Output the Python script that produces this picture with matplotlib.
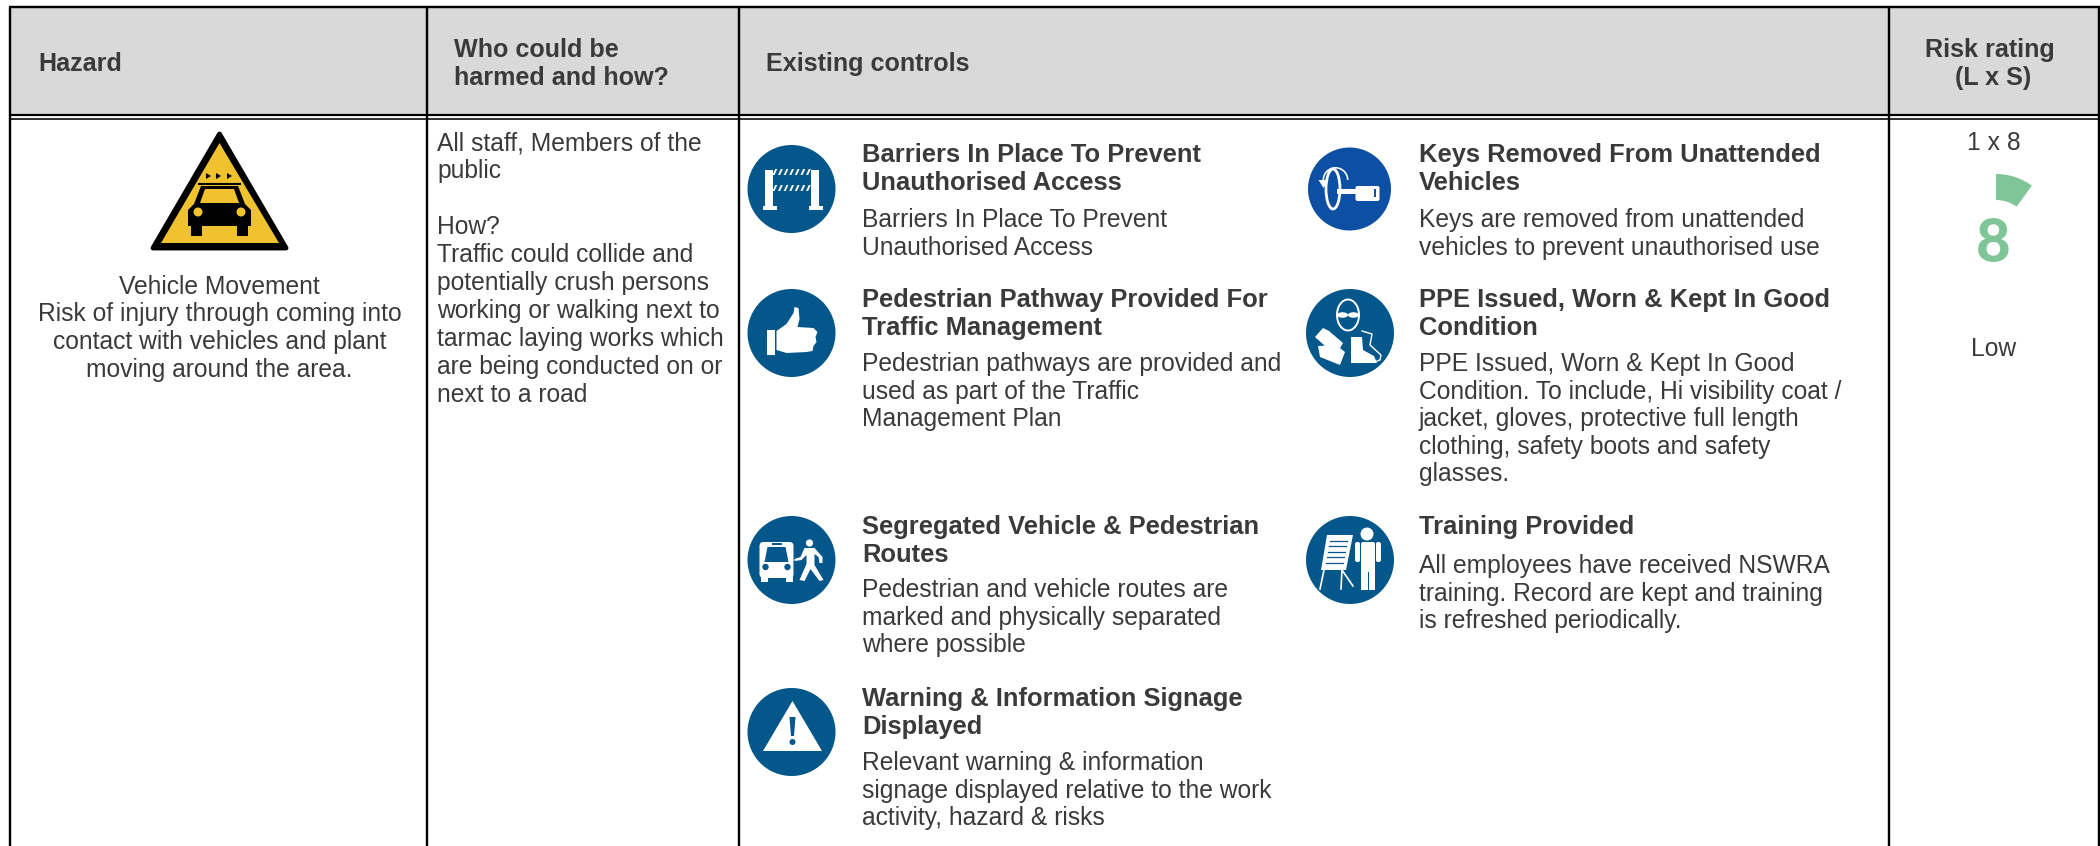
import matplotlib
matplotlib.use("Agg")
import matplotlib.pyplot as plt
from matplotlib.patches import Circle, Ellipse, Polygon, Rectangle, Wedge, FancyBboxPatch

plt.rcParams['font.family'] = ['Liberation Sans', 'DejaVu Sans']

TXT = "#3a3a3a"
BLUE = "#03578a"
KEYBLUE = "#0d4fa3"
GREEN = "#7fc597"
YELLOW = "#f0c22f"

headers = ["Hazard", "Who could be\nharmed and how?", "Existing controls", "Risk rating\n(L x S)"]

hazard_lines = ["Vehicle Movement", "Risk of injury through coming into",
                "contact with vehicles and plant", "moving around the area."]
who_lines = ["All staff, Members of the", "public", "", "How?", "Traffic could collide and",
             "potentially crush persons", "working or walking next to",
             "tarmac laying works which", "are being conducted on or", "next to a road"]

control_titles = [
    ["Barriers In Place To Prevent", "Unauthorised Access"],
    ["Pedestrian Pathway Provided For", "Traffic Management"],
    ["Segregated Vehicle & Pedestrian", "Routes"],
    ["Warning & Information Signage", "Displayed"],
    ["Keys Removed From Unattended", "Vehicles"],
    ["PPE Issued, Worn & Kept In Good", "Condition"],
    ["Training Provided"],
]
control_bodies = [
    ["Barriers In Place To Prevent", "Unauthorised Access"],
    ["Pedestrian pathways are provided and", "used as part of the Traffic", "Management Plan"],
    ["Pedestrian and vehicle routes are", "marked and physically separated", "where possible"],
    ["Relevant warning & information", "signage displayed relative to the work", "activity, hazard & risks"],
    ["Keys are removed from unattended", "vehicles to prevent unauthorised use"],
    ["PPE Issued, Worn & Kept In Good", "Condition. To include, Hi visibility coat /",
     "jacket, gloves, protective full length", "clothing, safety boots and safety", "glasses."],
    ["All employees have received NSWRA", "training. Record are kept and training",
     "is refreshed periodically."],
]
# x of text, y baseline of first title line, y baseline of first body line
control_pos = [(862, 162, 227), (862, 307, 371), (862, 534, 597), (862, 706, 770),
               (1419, 162, 227), (1419, 307, 371), (1419, 534, 573)]

likelihood_severity = "1 x 8"
risk_score = "8"
risk_label = "Low"
gauge_angle = 36

fig = plt.figure(figsize=(21, 8.46), dpi=100)
ax = fig.add_axes([0, 0, 1, 1])
ax.set_xlim(0, 2100)
ax.set_ylim(846, 0)
ax.axis("off")


def px(v):
    return v * 0.72


def add(p):
    ax.add_patch(p)
    return p


def white_poly(pts, cx, cy, color="white"):
    add(Polygon([(cx + a, cy + b) for a, b in pts], closed=True, fc=color, ec="none"))


def white_rect(x, y, w, h, cx, cy, color="white"):
    add(Rectangle((cx + x, cy + y), w, h, fc=color, ec="none"))


def barrier_icon(cx, cy):
    add(Circle((cx, cy), 44, fc=BLUE, ec="none"))
    white_rect(-27, -19, 8.5, 36, cx, cy)
    white_rect(19, -19, 8.5, 36, cx, cy)
    white_rect(-29, 17, 14, 4, cx, cy)
    white_rect(17, 17, 14, 4, cx, cy)
    for top in (-20, -4):
        for i in range(7):
            x0 = -19 + i * 5.6
            white_poly([(x0, top + 6), (x0 + 2, top + 6), (x0 + 4.7, top), (x0 + 2.7, top)], cx, cy)


def thumb_icon(cx, cy):
    add(Circle((cx, cy), 44, fc=BLUE, ec="none"))
    white_rect(-25, -3, 8.5, 25, cx, cy)
    white_poly([(-15, -2), (-5, -9), (2, -20), (3, -26), (7, -25), (8, -14), (6, -6),
                (22, -5), (26, -1), (24, 4), (25, 9), (22, 13), (21, 18), (15, 19),
                (-5, 20), (-15, 17)], cx, cy)


def bus_walker_icon(cx, cy):
    add(Circle((cx, cy), 44, fc=BLUE, ec="none"))
    add(FancyBboxPatch((cx - 32, cy - 18), 34, 36, boxstyle="round,pad=0,rounding_size=4", fc="white", ec="none"))
    white_poly([(-24, -13), (-6, -13), (-3, 2), (-27, 2)], cx, cy, BLUE)
    white_rect(-20, -17, 10, 2, cx, cy, BLUE)
    add(Circle((cx - 26, cy + 7), 3.2, fc=BLUE, ec="none"))
    add(Circle((cx - 4, cy + 7), 3.2, fc=BLUE, ec="none"))
    white_rect(-31, 16, 7, 6, cx, cy)
    white_rect(-6, 16, 7, 6, cx, cy)
    add(Circle((cx + 18, cy - 17), 3.6, fc="white", ec="none"))
    white_poly([(13, -12), (23, -12), (31, -3), (31, 3), (28, 3), (27, -3), (23, -6),
                (23, 5), (32, 20), (28, 21), (19, 9), (13, 21), (8, 20), (15, 4),
                (15, -5), (10, 0), (3, 1), (3, -1), (9, -3)], cx, cy)


def warning_icon(cx, cy):
    add(Circle((cx, cy), 44, fc=BLUE, ec="none"))
    white_poly([(1, -31), (30.5, 19), (-28.5, 19)], cx, cy)
    white_poly([(-2, -15), (4, -15), (2.5, 4), (-0.5, 4)], cx, cy, BLUE)
    add(Circle((cx + 1, cy + 10), 3, fc=BLUE, ec="none"))


def key_icon(cx, cy):
    add(Circle((cx, cy), 41.5, fc=KEYBLUE, ec="none"))
    add(Ellipse((cx - 16.5, cy), 14, 40, fc="none", ec="white", lw=2))
    add(Wedge((cx - 14, cy - 9), 13, 180, 360, width=1.6, fc="white", ec="none"))
    white_poly([(-31, -9), (-21, -9), (-26, -1)], cx, cy)
    white_rect(-13, 0, 20, 5, cx, cy)
    add(FancyBboxPatch((cx + 6, cy - 3), 24, 15, boxstyle="round,pad=0,rounding_size=2", fc="white", ec="none"))
    white_rect(24, 0, 2.5, 8, cx, cy, KEYBLUE)


def ppe_icon(cx, cy):
    add(Circle((cx, cy), 44, fc=BLUE, ec="none"))
    add(Ellipse((cx - 2, cy - 18), 22, 31, fc="none", ec="white", lw=1.4))
    add(Ellipse((cx - 7.5, cy - 18), 11, 5.5, fc="white", ec="none"))
    add(Ellipse((cx + 3.5, cy - 18), 11, 5.5, fc="white", ec="none"))
    white_poly([(-35, 4), (-27, -5), (-21, -2), (-7, 10), (-11, 17), (-25, 13)], cx, cy)
    white_poly([(-32, 13), (-14, 12), (-5, 19), (-10, 32), (-30, 24)], cx, cy)
    white_poly([(1, 4), (12, 4), (13, 17), (24, 23), (27, 30), (1, 30)], cx, cy)
    ax.plot([cx + 12, cx + 22, cx + 20, cx + 31, cx + 30, cx + 27],
            [cy - 2, cy + 1, cy + 12, cy + 22, cy + 27, cy + 28], color="white", lw=1)


def training_icon(cx, cy):
    add(Circle((cx, cy), 44, fc=BLUE, ec="none"))
    white_poly([(-23, -25), (3, -25), (-4, 10), (-29, 10)], cx, cy)
    for i in range(5):
        y = -19 + i * 5.5
        ax.plot([cx - 20 - i, cx - 3 - i], [cy + y, cy + y], color=BLUE, lw=0.9)
    ax.plot([cx - 26, cx - 30], [cy + 10, cy + 29], color="white", lw=1.2)
    ax.plot([cx - 8, cx - 9], [cy + 10, cy + 29], color="white", lw=1.2)
    ax.plot([cx - 8, cx + 3], [cy + 10, cy + 26], color="white", lw=1.2)
    add(Circle((cx + 17, cy - 26), 6.5, fc="white", ec="none"))
    add(FancyBboxPatch((cx + 11, cy - 18), 14, 30, boxstyle="round,pad=0,rounding_size=2", fc="white", ec="none"))
    add(FancyBboxPatch((cx + 5, cy - 18), 5, 20, boxstyle="round,pad=0,rounding_size=2", fc="white", ec="none"))
    add(FancyBboxPatch((cx + 26, cy - 18), 5, 20, boxstyle="round,pad=0,rounding_size=2", fc="white", ec="none"))
    white_rect(11, 10, 6.5, 20, cx, cy)
    white_rect(18.5, 10, 6.5, 20, cx, cy)


def vehicle_sign():
    add(Polygon([(219.5, 134), (286, 248), (153, 248)], closed=True, fc="black", ec="black", lw=3.5, joinstyle="round"))
    add(Polygon([(219.5, 143), (279, 243), (161, 243)], closed=True, fc=YELLOW, ec="none"))
    for x in (208, 218, 229):
        add(Polygon([(x - 2, 173), (x + 3, 176), (x - 2, 179)], closed=True, fc="black", ec="none"))
    ax.plot([199, 240], [184.5, 184.5], color="black", lw=1.5)
    add(Polygon([(201, 186), (238, 186), (245, 204), (251, 210), (251, 226), (188, 226), (188, 210), (194, 204)],
                closed=True, fc="black", ec="none"))
    add(Polygon([(205, 189), (234, 189), (239, 203), (200, 203)], closed=True, fc=YELLOW, ec="none"))
    add(Circle((198, 212), 4.5, fc=YELLOW, ec="none"))
    add(Circle((241, 212), 4.5, fc=YELLOW, ec="none"))
    add(Rectangle((191, 226), 11, 10, fc="black", ec="none"))
    add(Rectangle((237, 226), 11, 10, fc="black", ec="none"))


# header band and grid
add(Rectangle((10, 7), 2089, 109, fc="#d9d9d9", ec="none"))
for x in (10, 427, 739, 1889, 2099):
    ax.plot([x, x], [7, 846], color="black", lw=px(2.4), solid_capstyle="butt")
ax.plot([9, 2100], [7, 7], color="black", lw=px(2.4), solid_capstyle="butt")
ax.plot([9, 2100], [115.5, 115.5], color="black", lw=px(2.2), solid_capstyle="butt")
ax.plot([9, 2100], [118.8, 118.8], color="black", lw=px(1.6), solid_capstyle="butt")

head_size = 18.1
ax.text(38, 71, headers[0], fontsize=head_size, fontweight="bold", color=TXT)
h = headers[1].split("\n")
ax.text(454, 57, h[0], fontsize=head_size, fontweight="bold", color=TXT)
ax.text(454, 85, h[1], fontsize=head_size, fontweight="bold", color=TXT)
ax.text(766, 71, headers[2], fontsize=head_size, fontweight="bold", color=TXT)
h = headers[3].split("\n")
ax.text(1990, 57, h[0], fontsize=head_size, fontweight="bold", color=TXT, ha="center")
ax.text(1993, 85, h[1], fontsize=head_size, fontweight="bold", color=TXT, ha="center")

body_size = 17.7
title_size = 18.4
vehicle_sign()
for i, line in enumerate(hazard_lines):
    ax.text(219.5, 293.5 + i * 28, line, fontsize=body_size, color=TXT, ha="center")
for i, line in enumerate(who_lines):
    ax.text(437, 150.5 + i * 27.9, line, fontsize=body_size, color=TXT)

icons = [barrier_icon, thumb_icon, bus_walker_icon, warning_icon, key_icon, ppe_icon, training_icon]
icon_y = [189, 333, 560, 732, 189, 333, 560]
icon_x = [791.5, 791.5, 791.5, 791.5, 1349.5, 1350, 1350]
for fn, ix, iy in zip(icons, icon_x, icon_y):
    fn(ix, iy)

for title, body, (x, yt, yb) in zip(control_titles, control_bodies, control_pos):
    for i, line in enumerate(title):
        ax.text(x, yt + i * 27.6, line, fontsize=title_size, fontweight="bold", color=TXT)
    for i, line in enumerate(body):
        ax.text(x, yb + i * 27.6, line, fontsize=body_size, color=TXT)

ax.text(1994, 150.5, likelihood_severity, fontsize=body_size, color=TXT, ha="center")
add(Wedge((1996, 235), 61, -90, -90 + gauge_angle, width=26, fc=GREEN, ec="none"))
ax.text(1993.5, 262, risk_score, fontsize=43, fontweight="black", family="Lato", color=GREEN, ha="center")
ax.text(1994, 356.5, risk_label, fontsize=body_size, color=TXT, ha="center")

fig.savefig("out.png", dpi=100)
